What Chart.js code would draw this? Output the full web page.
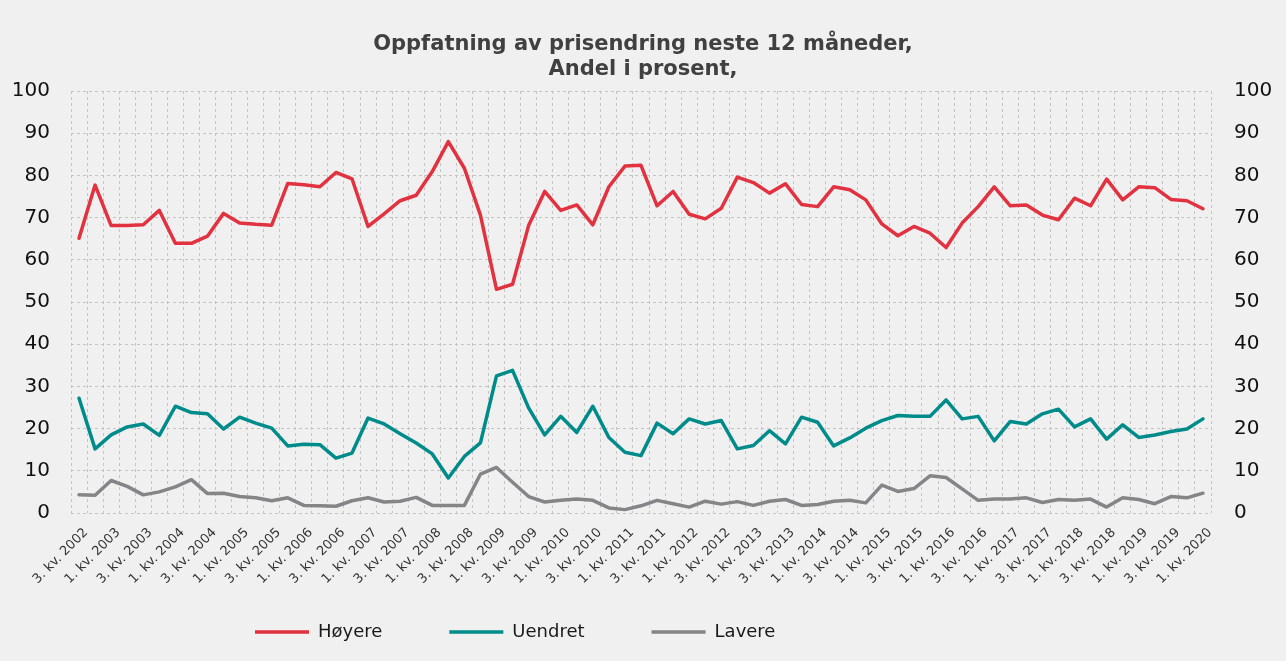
<!DOCTYPE html>
<html><head><meta charset="utf-8">
<script src="https://cdn.jsdelivr.net/npm/chart.js@4.4.1/dist/chart.umd.min.js"></script>
<style>html,body{margin:0;padding:0;background:#f0f0f0;overflow:hidden;} #wrap{width:1286px;height:661px;}</style>
</head><body><div id="wrap"><canvas id="c" width="1286" height="661"></canvas></div>
<script>
const categories = [
 "3. kv. 2002","4. kv. 2002",
 "1. kv. 2003","2. kv. 2003","3. kv. 2003","4. kv. 2003",
 "1. kv. 2004","2. kv. 2004","3. kv. 2004","4. kv. 2004",
 "1. kv. 2005","2. kv. 2005","3. kv. 2005","4. kv. 2005",
 "1. kv. 2006","2. kv. 2006","3. kv. 2006","4. kv. 2006",
 "1. kv. 2007","2. kv. 2007","3. kv. 2007","4. kv. 2007",
 "1. kv. 2008","2. kv. 2008","3. kv. 2008","4. kv. 2008",
 "1. kv. 2009","2. kv. 2009","3. kv. 2009","4. kv. 2009",
 "1. kv. 2010","2. kv. 2010","3. kv. 2010","4. kv. 2010",
 "1. kv. 2011","2. kv. 2011","3. kv. 2011","4. kv. 2011",
 "1. kv. 2012","2. kv. 2012","3. kv. 2012","4. kv. 2012",
 "1. kv. 2013","2. kv. 2013","3. kv. 2013","4. kv. 2013",
 "1. kv. 2014","2. kv. 2014","3. kv. 2014","4. kv. 2014",
 "1. kv. 2015","2. kv. 2015","3. kv. 2015","4. kv. 2015",
 "1. kv. 2016","2. kv. 2016","3. kv. 2016","4. kv. 2016",
 "1. kv. 2017","2. kv. 2017","3. kv. 2017","4. kv. 2017",
 "1. kv. 2018","2. kv. 2018","3. kv. 2018","4. kv. 2018",
 "1. kv. 2019","2. kv. 2019","3. kv. 2019","4. kv. 2019",
 "1. kv. 2020"
];
const hoyere = [65.1,77.7,68.1,68.1,68.3,71.7,63.9,63.9,65.6,71.0,68.7,68.4,68.2,78.1,77.8,77.3,80.7,79.2,67.9,70.9,74.0,75.3,80.9,88.0,81.7,70.6,53.0,54.2,68.1,76.2,71.7,73.0,68.3,77.3,82.2,82.4,72.8,76.2,70.8,69.7,72.2,79.6,78.3,75.8,78.0,73.1,72.6,77.3,76.6,74.2,68.5,65.7,67.9,66.3,62.9,68.7,72.6,77.3,72.8,73.0,70.6,69.5,74.6,72.8,79.1,74.2,77.3,77.1,74.3,74.0,72.1];
const uendret = [27.2,15.2,18.5,20.4,21.1,18.4,25.3,23.8,23.5,19.9,22.7,21.3,20.1,15.9,16.3,16.2,13.0,14.2,22.5,21.1,18.8,16.6,14.0,8.3,13.4,16.6,32.5,33.8,24.9,18.5,22.9,19.1,25.3,17.9,14.4,13.6,21.3,18.8,22.3,21.1,21.9,15.2,16.0,19.5,16.4,22.7,21.5,15.9,17.8,20.1,21.9,23.1,22.9,22.9,26.8,22.3,22.9,17.1,21.7,21.1,23.5,24.6,20.4,22.3,17.5,20.9,17.9,18.5,19.3,19.9,22.3];
const lavere = [4.3,4.2,7.7,6.3,4.3,5.0,6.2,7.9,4.6,4.7,3.9,3.6,2.9,3.6,1.8,1.7,1.6,2.9,3.6,2.6,2.8,3.7,1.8,1.8,1.8,9.2,10.8,7.3,3.9,2.6,3.0,3.3,3.0,1.2,0.8,1.7,3.0,2.2,1.4,2.8,2.1,2.7,1.8,2.8,3.2,1.8,2.0,2.8,3.0,2.4,6.6,5.1,5.8,8.8,8.4,5.7,3.0,3.3,3.3,3.6,2.5,3.2,3.0,3.3,1.4,3.6,3.2,2.2,3.9,3.6,4.7];
const seriesNames = ["Høyere","Uendret","Lavere"];
const seriesColors = ["#e2313f","#008b8b","#858588"];
const titleLines = ["Oppfatning av prisendring neste 12 måneder,","Andel i prosent,"];
const yMin = 0, yMax = 100, yStep = 10;

Chart.defaults.font.family = "'DejaVu Sans', Verdana, sans-serif";

const layoutTweak = {
  id: 'layoutTweak',
  afterLayout(chart) {
    if (chart.legend) { chart.legend.left = 188; }
    const x = chart.scales.x;
    if (x) { x.bottom = chart.height; }
  }
};

function mkSet(label, data, color) {
  return { label, data, borderColor: color, backgroundColor: color, borderWidth: 3.5,
    pointRadius: 0, pointHoverRadius: 0, tension: 0, fill: false,
    borderCapStyle: 'round', borderJoinStyle: 'round' };
}

const gridColor = '#c4c4c4';
new Chart(document.getElementById('c'), {
  type: 'line',
  data: {
    labels: categories,
    datasets: [
      mkSet(seriesNames[0], hoyere, seriesColors[0]),
      mkSet(seriesNames[1], uendret, seriesColors[1]),
      mkSet(seriesNames[2], lavere, seriesColors[2])
    ]
  },
  plugins: [layoutTweak],
  options: {
    responsive: false,
    animation: false,
    layout: { padding: { left: 0, right: 0, top: 0, bottom: 10 } },
    plugins: {
      title: { display: true, text: titleLines, color: '#404040',
        font: { size: 21, weight: 'bold', lineHeight: 1.2 },
        padding: { top: 32, bottom: 8.6 } },
      legend: { position: 'bottom', align: 'start',
        labels: { usePointStyle: true, pointStyle: 'line', pointStyleWidth: 54,
          padding: 67, color: '#1a1a1a', font: { size: 18 } } },
      tooltip: { enabled: false }
    },
    scales: {
      x: {
        type: 'category', offset: true,
        grid: { offset: true, color: gridColor, lineWidth: 1, drawTicks: false },
        border: { display: false, dash: [3, 3] },
        ticks: { autoSkip: false, maxRotation: 45, minRotation: 45, padding: 12, labelOffset: 7,
          color: '#333333', font: { size: 13 },
          callback: function (v, i) { return i % 2 === 0 ? this.getLabelForValue(v) : ''; } },
        afterFit: s => { s.height = 43; }
      },
      y: {
        position: 'left', min: yMin, max: yMax,
        ticks: { stepSize: yStep, padding: 21, color: '#111111', font: { size: 20 } },
        grid: { color: gridColor, lineWidth: 1, drawTicks: false },
        border: { display: false, dash: [3, 3] },
        afterFit: s => { s.width = 71; }
      },
      y2: {
        position: 'right', min: yMin, max: yMax,
        ticks: { stepSize: yStep, padding: 23, color: '#111111', font: { size: 20 } },
        grid: { drawOnChartArea: false, drawTicks: false },
        border: { display: false },
        afterFit: s => { s.width = 75; }
      }
    }
  }
});
</script>
</body></html>
